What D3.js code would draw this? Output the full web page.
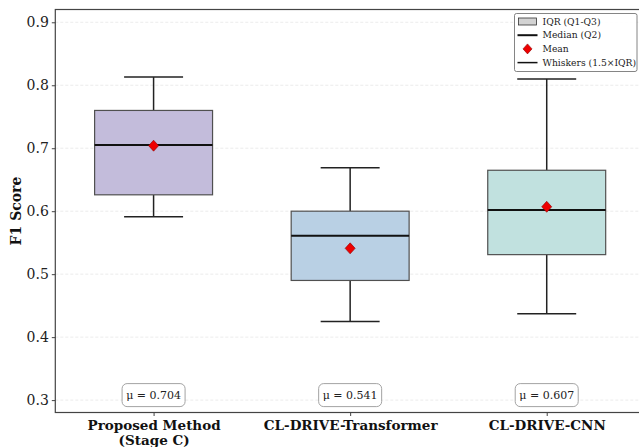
<!DOCTYPE html>
<html lang="en">
<head>
  <meta charset="UTF-8" />
  <title>F1 Score Box Plot</title>
  <script src="https://d3js.org/d3.v7.min.js"></script>
  <style>
    body { margin: 0; background: #fff; }
    svg { font-family: "DejaVu Serif", serif; display: block; }
    svg text { font-family: "DejaVu Serif", serif; }
    .grid line { stroke: #e2e2e2; stroke-dasharray: 3,2; stroke-width: 0.7; }
  </style>
</head>
<body>
  <svg id="chart" width="639" height="447"></svg>
  <script>
    const width = 639;
    const height = 447;

    const categories = ["Proposed Method\n(Stage C)", "CL-DRIVE-Transformer", "CL-DRIVE-CNN"];
    const whiskerLow = [0.591, 0.425, 0.437];
    const q1 = [0.626, 0.490, 0.531];
    const median = [0.705, 0.561, 0.602];
    const q3 = [0.760, 0.600, 0.665];
    const whiskerHigh = [0.813, 0.669, 0.810];
    const means = [0.704, 0.541, 0.607];
    const fills = ["#c3bcdb", "#b9d0e4", "#c1e1df"];
    const yTicks = [0.3, 0.4, 0.5, 0.6, 0.7, 0.8, 0.9];

    const margin = { top: 9.5, right: -6, bottom: 34.5, left: 55.3 };
    const svg = d3.select("#chart");

    const x = d3.scaleLinear()
      .domain([0.5, 3.5])
      .range([margin.left, width - margin.right]);
    const y = d3.scaleLinear()
      .domain([0.2803, 0.9203])
      .range([height - margin.bottom, margin.top]);

    // grid
    svg.append("g")
      .attr("class", "grid")
      .selectAll("line")
      .data(yTicks)
      .join("line")
      .attr("x1", x(0.5))
      .attr("x2", x(3.5))
      .attr("y1", d => y(d))
      .attr("y2", d => y(d));

    const boxes = categories.map((c, i) => ({
      i, c, lo: whiskerLow[i], q1: q1[i], med: median[i], q3: q3[i], hi: whiskerHigh[i], mean: means[i], fill: fills[i]
    }));

    const bw = 0.6;
    const cap = 0.3;
    const g = svg.append("g");
    const diamond = (w, h) => `M0,${-h / 2}L${w / 2},0L0,${h / 2}L${-w / 2},0Z`;

    boxes.forEach(b => {
      const cx = b.i + 1;
      // whiskers
      g.append("line").attr("x1", x(cx)).attr("x2", x(cx)).attr("y1", y(b.q3)).attr("y2", y(b.hi))
        .attr("stroke", "#222").attr("stroke-width", 1.5);
      g.append("line").attr("x1", x(cx)).attr("x2", x(cx)).attr("y1", y(b.q1)).attr("y2", y(b.lo))
        .attr("stroke", "#222").attr("stroke-width", 1.5);
      g.append("line").attr("x1", x(cx - cap / 2)).attr("x2", x(cx + cap / 2)).attr("y1", y(b.hi)).attr("y2", y(b.hi))
        .attr("stroke", "#222").attr("stroke-width", 1.5);
      g.append("line").attr("x1", x(cx - cap / 2)).attr("x2", x(cx + cap / 2)).attr("y1", y(b.lo)).attr("y2", y(b.lo))
        .attr("stroke", "#222").attr("stroke-width", 1.5);
      // box
      g.append("rect")
        .attr("x", x(cx - bw / 2))
        .attr("width", x(cx + bw / 2) - x(cx - bw / 2))
        .attr("y", y(b.q3))
        .attr("height", y(b.q1) - y(b.q3))
        .attr("fill", b.fill)
        .attr("stroke", "#505050")
        .attr("stroke-width", 1.2);
      // median
      g.append("line").attr("x1", x(cx - bw / 2)).attr("x2", x(cx + bw / 2)).attr("y1", y(b.med)).attr("y2", y(b.med))
        .attr("stroke", "#111").attr("stroke-width", 2);
      // mean
      g.append("path")
        .attr("d", diamond(10, 11))
        .attr("transform", `translate(${x(cx)},${y(b.mean)})`)
        .attr("fill", "#ee0000")
        .attr("stroke", "#8b0000")
        .attr("stroke-width", 0.6);
      // mean label
      const lbl = g.append("g").attr("transform", `translate(${x(cx)},${y(0.3) - 5})`);
      lbl.append("rect")
        .attr("x", -31.5)
        .attr("y", -11.5)
        .attr("width", 63)
        .attr("height", 23)
        .attr("rx", 5)
        .attr("fill", "#fff")
        .attr("stroke", "#999")
        .attr("stroke-width", 0.9);
      lbl.append("text")
        .attr("text-anchor", "middle")
        .attr("dy", "0.35em")
        .attr("font-size", 11)
        .attr("fill", "#222")
        .text(`μ = ${b.mean.toFixed(3)}`);
    });

    // axes
    const yAxis = d3.axisLeft(y).tickValues(yTicks).tickFormat(d3.format(".1f")).tickSize(3.5).tickPadding(3);
    svg.append("g")
      .attr("transform", `translate(${margin.left},0)`)
      .call(yAxis)
      .attr("font-family", null)
      .attr("font-size", null)
      .call(a => a.select(".domain").remove())
      .call(a => a.selectAll("text").style("font-size", "14px").style("font-family", "'DejaVu Serif', serif").attr("fill", "#222"))
      .call(a => a.selectAll("line").attr("stroke", "#444"));

    const xAxis = d3.axisBottom(x).tickValues([1, 2, 3]).tickFormat("").tickSize(3.5);
    const xg = svg.append("g")
      .attr("transform", `translate(0,${height - margin.bottom})`)
      .call(xAxis)
      .attr("font-family", null)
      .call(a => a.select(".domain").remove())
      .call(a => a.selectAll("line").attr("stroke", "#444"));

    xg.selectAll(".tick").each(function (d) {
      const lines = categories[d - 1].split("\n");
      const t = d3.select(this).append("text")
        .attr("text-anchor", "middle")
        .attr("fill", "#111")
        .style("font-size", "13.5px")
        .style("font-weight", "bold");
      lines.forEach((l, k) => {
        t.append("tspan").attr("x", 0).attr("y", 17 + k * 15.5).text(l);
      });
    });

    // frame
    svg.append("rect")
      .attr("x", margin.left)
      .attr("y", margin.top)
      .attr("width", x(3.5) - margin.left)
      .attr("height", y(0.2803) - margin.top)
      .attr("fill", "none")
      .attr("stroke", "#444")
      .attr("stroke-width", 1.2);

    // y label
    svg.append("text")
      .attr("transform", `translate(21,${(margin.top + height - margin.bottom) / 2}) rotate(-90)`)
      .attr("text-anchor", "middle")
      .style("font-size", "14px")
      .style("font-weight", "bold")
      .attr("fill", "#111")
      .text("F1 Score");

    // legend
    const legendItems = ["IQR (Q1-Q3)", "Median (Q2)", "Mean", "Whiskers (1.5×IQR)"];
    const lg = svg.append("g").attr("transform", "translate(514.5,13.5)");
    lg.append("rect")
      .attr("x", 0).attr("y", 0).attr("width", 122.5).attr("height", 58)
      .attr("rx", 2)
      .attr("fill", "#fff")
      .attr("fill-opacity", 0.9)
      .attr("stroke", "#666")
      .attr("stroke-width", 0.8);
    legendItems.forEach((name, k) => {
      const yy = 8 + k * 13.7;
      if (k === 0) {
        lg.append("rect").attr("x", 4).attr("y", yy - 3.5).attr("width", 18).attr("height", 7)
          .attr("fill", "#d3d3d3").attr("stroke", "#333").attr("stroke-width", 0.8);
      } else if (k === 2) {
        lg.append("path")
          .attr("d", diamond(9, 10))
          .attr("transform", `translate(13,${yy})`)
          .attr("fill", "#ee0000").attr("stroke", "#8b0000").attr("stroke-width", 0.6);
      } else {
        lg.append("line").attr("x1", 3).attr("x2", 23).attr("y1", yy).attr("y2", yy)
          .attr("stroke", "#111").attr("stroke-width", k === 1 ? 2 : 1.5);
      }
      lg.append("text")
        .attr("x", 28).attr("y", yy).attr("dy", "0.35em")
        .style("font-size", "9.2px")
        .attr("fill", "#222")
        .text(name);
    });
  </script>
</body>
</html>
